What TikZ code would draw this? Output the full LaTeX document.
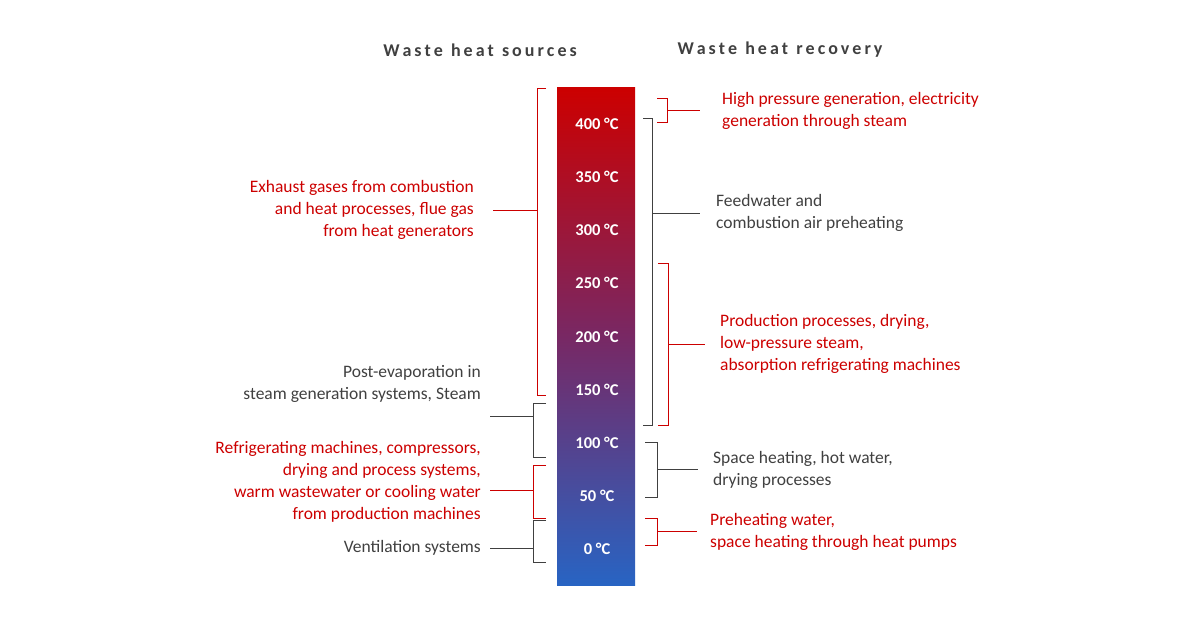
\documentclass[tikz,border=0pt]{standalone}
\usepackage{fontspec}
\setmainfont{Carlito}
\definecolor{HeatRed}{RGB}{204, 0, 0}
\definecolor{HeatBlue}{RGB}{40, 100, 195}
\definecolor{HeatMid}{RGB}{120, 40, 100}
\definecolor{DarkGray}{RGB}{64, 64, 64}
\usetikzlibrary{positioning}
\begin{document}
\begin{tikzpicture}[x=1pt, y=-1pt,
    every node/.style={font=\fontsize{17.5}{22}\selectfont, inner sep=0pt},
    txt/.style={align=left, anchor=west},
    txtl/.style={align=right, anchor=east},
    temp/.style={font=\fontsize{16.5}{18}\selectfont\bfseries, text=white},
    title/.style={font=\fontsize{18}{20}\selectfont\bfseries, text=DarkGray},
    brk/.style={thick}]
    \useasboundingbox (0,0) rectangle (1200,618);

    % Titles
    \node[title] (tsrc) at (480, 50) {W\,a\,s\,t\,e\ \ h\,e\,a\,t\ \ s\,o\,u\,r\,c\,e\,s};
    \node[title] (trec) at (780, 50) {W\,a\,s\,t\,e\ \ h\,e\,a\,t\ \ r\,e\,c\,o\,v\,e\,r\,y};

    % Temperature bar
    \shade[top color=HeatRed, bottom color=HeatBlue, middle color=HeatMid] (557, 88) rectangle (635, 585);
    \foreach \t [count=\i from 0] in {400,350,300,250,200,150,100,50,0} {
        \node[temp] (t\t) at (597, {124+\i*53.1}) {\t~°C};
    }

    % Sources (left)
    \draw[brk, HeatRed] (546, 88) -- (537, 88) -- (537, 395) -- (546, 395);
    \draw[brk, HeatRed] (537, 210) -- (493, 210);
    \node[txtl, text=HeatRed] (exh) at (474, 210) {Exhaust gases from combustion\\and heat processes, flue gas\\from heat generators};

    \draw[brk, DarkGray] (546, 403) -- (533, 403) -- (533, 457) -- (546, 457);
    \draw[brk, DarkGray] (533, 416) -- (490, 416);
    \node[txtl, text=DarkGray] (post) at (481, 384) {Post-evaporation in\\steam generation systems, Steam};

    \draw[brk, HeatRed] (546, 465) -- (533, 465) -- (533, 518) -- (546, 518);
    \draw[brk, HeatRed] (533, 490) -- (490, 490);
    \node[txtl, text=HeatRed] (refr) at (481, 482) {Refrigerating machines, compressors,\\drying and process systems,\\warm wastewater or cooling water\\from production machines};

    \draw[brk, DarkGray] (546, 520) -- (533, 520) -- (533, 562) -- (546, 562);
    \draw[brk, DarkGray] (533, 548) -- (490, 548);
    \node[txtl, text=DarkGray] (vent) at (481, 548) {Ventilation systems};

    % Recovery (right)
    \draw[brk, HeatRed] (657, 98) -- (667, 98) -- (667, 122) -- (657, 122);
    \draw[brk, HeatRed] (667, 110) -- (700, 110);
    \node[txt, text=HeatRed] (hp) at (722, 111) {High pressure generation, electricity\\generation through steam};

    \draw[brk, DarkGray] (643, 118) -- (652, 118) -- (652, 425) -- (643, 425);
    \draw[brk, DarkGray] (652, 213) -- (700, 213);
    \node[txt, text=DarkGray] (feed) at (716, 213) {Feedwater and\\combustion air preheating};

    \draw[brk, HeatRed] (658, 263) -- (668, 263) -- (668, 425) -- (658, 425);
    \draw[brk, HeatRed] (668, 344) -- (705, 344);
    \node[txt, text=HeatRed] (prod) at (720, 344) {Production processes, drying,\\low-pressure steam,\\absorption refrigerating machines};

    \draw[brk, DarkGray] (645, 442) -- (657, 442) -- (657, 497) -- (645, 497);
    \draw[brk, DarkGray] (657, 469) -- (698, 469);
    \node[txt, text=DarkGray] (space) at (713, 470) {Space heating, hot water,\\drying processes};

    \draw[brk, HeatRed] (645, 518) -- (657, 518) -- (657, 545) -- (645, 545);
    \draw[brk, HeatRed] (657, 531) -- (697, 531);
    \node[txt, text=HeatRed] (pre) at (710, 532) {Preheating water,\\space heating through heat pumps};
\end{tikzpicture}
\end{document}
